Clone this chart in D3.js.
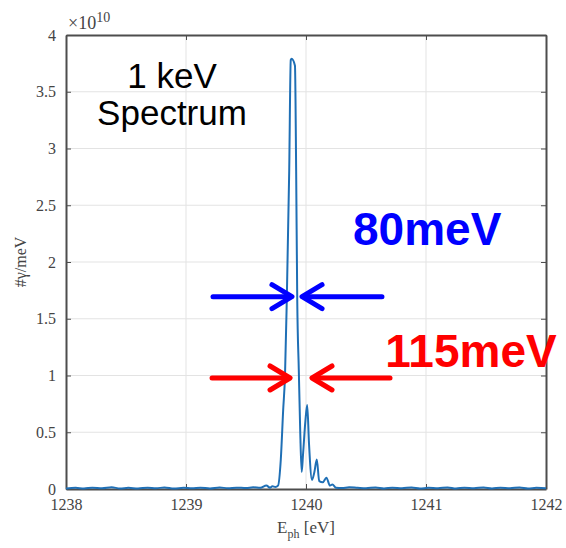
<!DOCTYPE html>
<html>
<head>
<meta charset="utf-8">
<script src="https://cdn.jsdelivr.net/npm/d3@7"></script>
<style>
  body { margin: 0; background: #fff; }
  svg { display: block; }
</style>
</head>
<body>
<svg width="566" height="548"></svg>
<script>
const width = 566
const height = 548
const margin = { top: 35, right: 20, bottom: 59, left: 66 }

// photon energy [eV] and photons per meV (x 1e10)
const energy = [1238.00, 1238.08, 1238.15, 1238.22, 1238.30, 1238.38, 1238.45, 1238.52, 1238.60, 1238.68,
  1238.75, 1238.82, 1238.90, 1238.98, 1239.05, 1239.12, 1239.20, 1239.28, 1239.35, 1239.42,
  1239.50, 1239.56, 1239.62, 1239.67, 1239.70, 1239.72, 1239.745, 1239.767, 1239.79, 1239.81,
  1239.825, 1239.84, 1239.86, 1239.873, 1239.88, 1239.908, 1239.918, 1239.927, 1239.94, 1239.952,
  1239.964, 1239.975, 1239.995, 1240.01, 1240.025, 1240.05, 1240.07, 1240.09, 1240.11, 1240.14,
  1240.17, 1240.20, 1240.22, 1240.25, 1240.30, 1240.36, 1240.43, 1240.50, 1240.58, 1240.65,
  1240.72, 1240.80, 1240.88, 1240.95, 1241.02, 1241.10, 1241.18, 1241.25, 1241.32, 1241.40,
  1241.48, 1241.55, 1241.62, 1241.70, 1241.78, 1241.85, 1241.92, 1242.00]
const photons = [0.005, 0.010, 0.004, 0.012, 0.006, 0.015, 0.005, 0.010, 0.004, 0.012,
  0.006, 0.014, 0.004, 0.010, 0.006, 0.012, 0.005, 0.014, 0.006, 0.012,
  0.008, 0.015, 0.010, 0.030, 0.012, 0.025, 0.018, 0.030, 0.26, 0.70,
  1.00, 1.67, 2.80, 3.78, 3.79, 3.73, 2.80, 1.67, 1.05, 0.50,
  0.15, 0.30, 0.60, 0.74, 0.40, 0.08, 0.15, 0.26, 0.07, 0.06,
  0.10, 0.03, 0.04, 0.012, 0.008, 0.015, 0.010, 0.006, 0.014, 0.005,
  0.012, 0.006, 0.014, 0.005, 0.010, 0.006, 0.014, 0.004, 0.012, 0.006,
  0.014, 0.005, 0.012, 0.006, 0.014, 0.005, 0.010, 0.006]

const xTicks = [1238, 1239, 1240, 1241, 1242]
const yTicks = [0, 0.5, 1, 1.5, 2, 2.5, 3, 3.5, 4]

// width annotations, in data units
const fwhmLabels = ['80meV', '115meV']
const fwhmColors = ['#0000ff', '#ff0000']
const fwhmLevels = [1.694, 0.978]
const arrowLeft = [[1239.225, 1239.883], [1239.217, 1239.867]]
const arrowRight = [[1240.633, 1239.967], [1240.70, 1240.05]]
const labelPos = [[1241.01, 2.15], [1241.375, 1.075]]

const svg = d3.select('svg')

const xScale = d3.scaleLinear()
  .domain([1238, 1242])
  .range([margin.left, width - margin.right])

const yScale = d3.scaleLinear()
  .domain([0, 4])
  .range([height - margin.bottom, margin.top])

const x0 = margin.left, x1 = width - margin.right
const y0 = height - margin.bottom, y1 = margin.top

// grid
svg.append('g')
  .selectAll('line')
  .data(xTicks.slice(1, -1))
  .enter().append('line')
  .attr('x1', d => xScale(d)).attr('x2', d => xScale(d))
  .attr('y1', y0).attr('y2', y1)
  .attr('stroke', '#e3e3e3')

svg.append('g')
  .selectAll('line')
  .data(yTicks.slice(1, -1))
  .enter().append('line')
  .attr('x1', x0).attr('x2', x1)
  .attr('y1', d => yScale(d)).attr('y2', d => yScale(d))
  .attr('stroke', '#e3e3e3')

// axes, ticks pointing inward, box on
const tickLen = 5
const xAxis = d3.axisBottom(xScale).tickValues(xTicks).tickFormat(d3.format('d')).tickSizeInner(-tickLen).tickSizeOuter(0).tickPadding(10)
const xAxisTop = d3.axisTop(xScale).tickValues(xTicks).tickFormat('').tickSizeInner(-tickLen).tickSizeOuter(0)
const yAxis = d3.axisLeft(yScale).tickValues(yTicks).tickFormat(d3.format('~g')).tickSizeInner(-tickLen).tickSizeOuter(0).tickPadding(10)
const yAxisRight = d3.axisRight(yScale).tickValues(yTicks).tickFormat('').tickSizeInner(-tickLen).tickSizeOuter(0)

const axes = [
  svg.append('g').attr('transform', `translate(0,${y0})`).call(xAxis),
  svg.append('g').attr('transform', `translate(0,${y1})`).call(xAxisTop),
  svg.append('g').attr('transform', `translate(${x0},0)`).call(yAxis),
  svg.append('g').attr('transform', `translate(${x1},0)`).call(yAxisRight)
]
axes.forEach(g => {
  g.select('.domain').attr('stroke', '#4d4d4d').attr('stroke-width', 2)
  g.selectAll('.tick line').attr('stroke', '#4d4d4d')
  g.selectAll('text')
    .attr('fill', '#444')
    .attr('font-family', 'Liberation Serif, serif')
    .attr('font-size', 16)
})

// spectrum line
svg.append('clipPath').attr('id', 'clip')
  .append('rect').attr('x', x0).attr('y', y1).attr('width', x1 - x0).attr('height', y0 - y1 + 1)

const line = d3.line()
  .x((d, i) => xScale(energy[i]))
  .y(d => yScale(d))
  .curve(d3.curveMonotoneX)

svg.append('path')
  .datum(photons)
  .attr('clip-path', 'url(#clip)')
  .attr('fill', 'none')
  .attr('stroke', '#1f6fb5')
  .attr('stroke-width', 2)
  .attr('stroke-linejoin', 'round')
  .attr('d', line)

// exponent
const expo = svg.append('text')
  .attr('x', x0 + 2).attr('y', y1 - 6)
  .attr('fill', '#444')
  .attr('font-family', 'Liberation Serif, serif')
  .attr('font-size', 18)
expo.append('tspan').text('×10')
expo.append('tspan').attr('dy', -7).attr('font-size', 14).text('10')

// axis titles
const xTitle = svg.append('text')
  .attr('x', (x0 + x1) / 2).attr('y', height - 15)
  .attr('text-anchor', 'middle')
  .attr('fill', '#444')
  .attr('font-family', 'Liberation Serif, serif')
  .attr('font-size', 17)
xTitle.append('tspan').text('E')
xTitle.append('tspan').attr('dy', 5).attr('font-size', 12).text('ph')
xTitle.append('tspan').attr('dy', -5).text(' [eV]')

svg.append('text')
  .attr('transform', `translate(26,${(y0 + y1) / 2}) rotate(-90)`)
  .attr('text-anchor', 'middle')
  .attr('fill', '#444')
  .attr('font-family', 'Liberation Serif, serif')
  .attr('font-size', 16)
  .text('#γ/meV')

// title text
svg.append('text')
  .attr('x', 172).attr('y', 88)
  .attr('text-anchor', 'middle')
  .attr('font-family', 'Liberation Sans, Arial, sans-serif')
  .attr('font-size', 35)
  .attr('fill', '#000')
  .text('1 keV')

svg.append('text')
  .attr('x', 172).attr('y', 125)
  .attr('text-anchor', 'middle')
  .attr('font-family', 'Liberation Sans, Arial, sans-serif')
  .attr('font-size', 35)
  .attr('fill', '#000')
  .text('Spectrum')

// FWHM arrows
function arrow(g, tail, head, level, color) {
  const yy = yScale(level)
  const xt = xScale(tail), xh = xScale(head)
  const dir = xh > xt ? 1 : -1
  g.append('line')
    .attr('x1', xt).attr('x2', xh - dir * 2).attr('y1', yy).attr('y2', yy)
  g.append('path')
    .attr('d', `M${xh - dir * 20},${yy - 12} L${xh},${yy} L${xh - dir * 20},${yy + 12}`)
  g.selectAll('line, path')
    .attr('stroke', color).attr('stroke-width', 5).attr('fill', 'none')
    .attr('stroke-linecap', 'round').attr('stroke-linejoin', 'round')
}

fwhmLabels.forEach((label, i) => {
  const g = svg.append('g')
  arrow(g, arrowLeft[i][0], arrowLeft[i][1], fwhmLevels[i], fwhmColors[i])
  arrow(g, arrowRight[i][0], arrowRight[i][1], fwhmLevels[i], fwhmColors[i])
  svg.append('text')
    .attr('x', xScale(labelPos[i][0])).attr('y', yScale(labelPos[i][1]))
    .attr('text-anchor', 'middle')
    .attr('font-family', 'Liberation Sans, Arial, sans-serif')
    .attr('font-weight', 'bold')
    .attr('font-size', 46)
    .attr('fill', fwhmColors[i])
    .text(label)
})
</script>
</body>
</html>
